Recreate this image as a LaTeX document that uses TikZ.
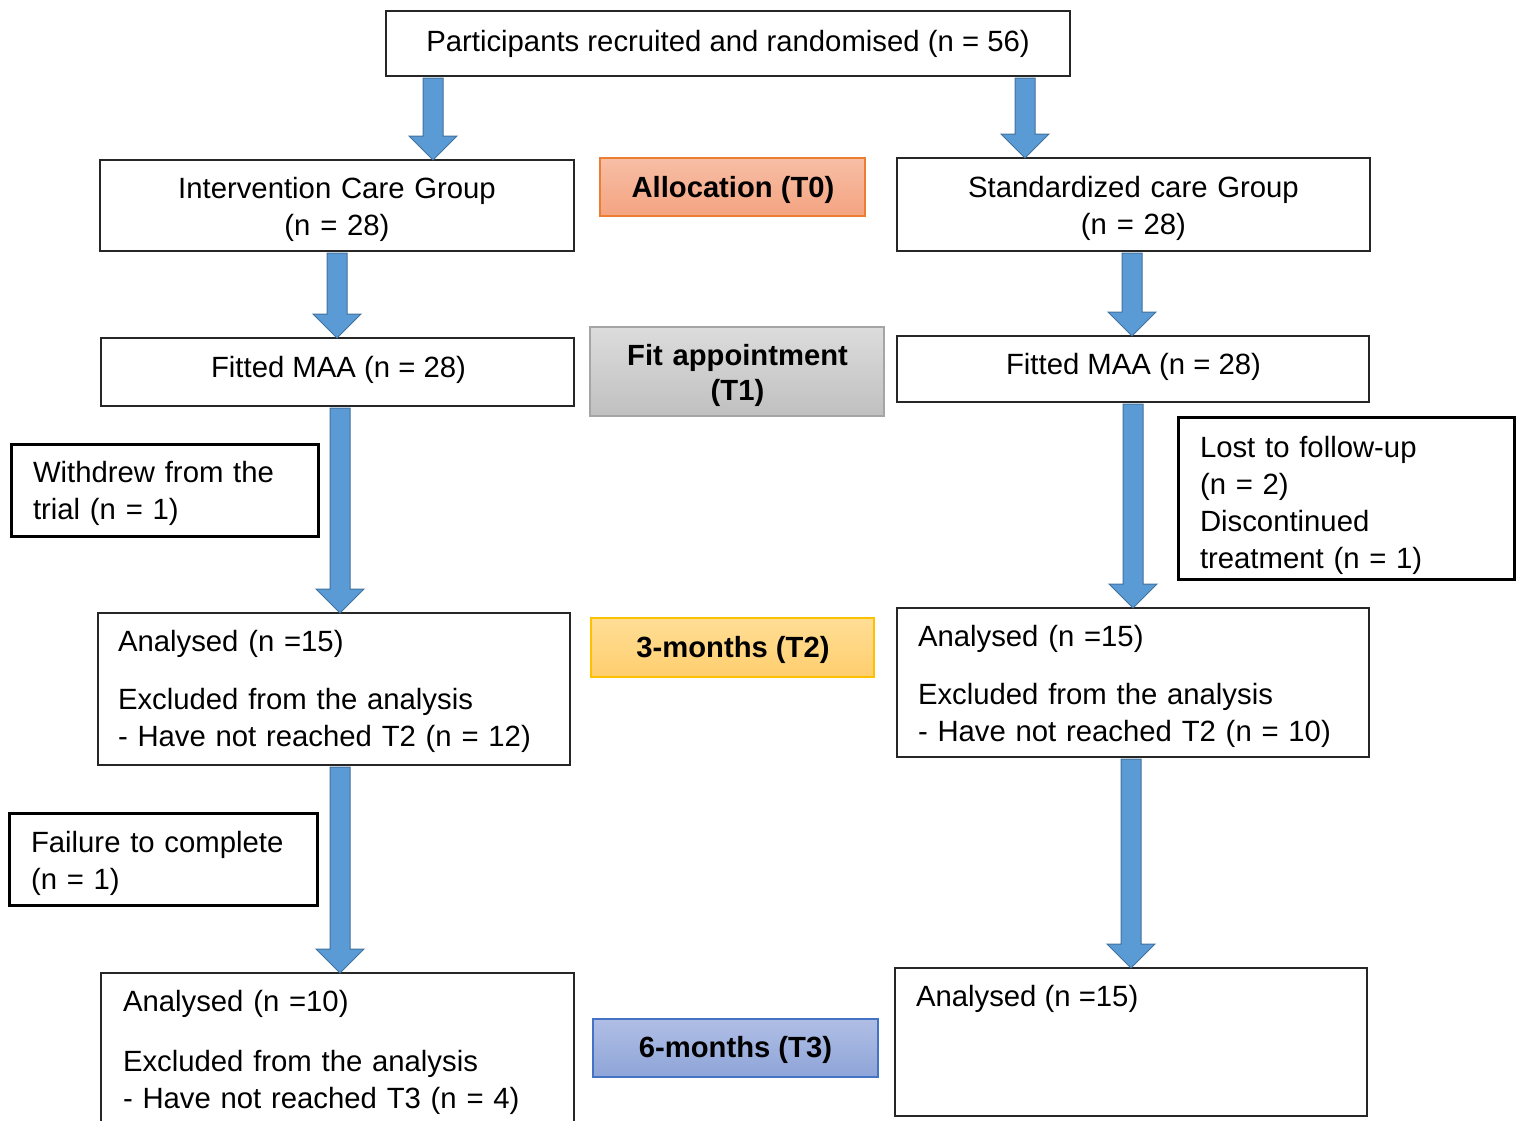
\documentclass[tikz,border=0pt]{standalone}
\usepackage{fontspec}
\setmainfont{Liberation Sans}
\usetikzlibrary{calc}

\definecolor{arrowblue}{HTML}{5B9BD5}
\definecolor{arrowedge}{HTML}{41719C}
\definecolor{boxline}{HTML}{262626}
\definecolor{orangetop}{RGB}{247,190,166}
\definecolor{orangebot}{RGB}{244,164,128}
\definecolor{orangeline}{HTML}{ED7D31}
\definecolor{greytop}{RGB}{220,220,220}
\definecolor{greybot}{RGB}{192,192,192}
\definecolor{greyline}{HTML}{A5A5A5}
\definecolor{yellowtop}{RGB}{255,222,150}
\definecolor{yellowbot}{RGB}{255,206,110}
\definecolor{yellowline}{HTML}{FFC000}
\definecolor{bluetop}{RGB}{176,190,229}
\definecolor{bluebot}{RGB}{142,165,216}
\definecolor{blueline}{HTML}{4472C4}

% block arrow straight down at x = #1, from node anchor #2 to node anchor #3
\newcommand\flowarrow[3]{%
  \filldraw[flowarrow] let \p1=(#2), \p2=(#3) in
    (#1pt-10pt,\y1-2pt) -- (#1pt+10pt,\y1-2pt) -- (#1pt+10pt,\y2+24pt)
    -- (#1pt+24pt,\y2+24pt) -- (#1pt,\y2) -- (#1pt-24pt,\y2+24pt)
    -- (#1pt-10pt,\y2+24pt) -- cycle;}

\tikzset{
  box/.style={draw=boxline, line width=1.4pt, fill=white, inner sep=0pt,
    outer sep=0pt, anchor=north west},
  thickbox/.style={box, draw=black, line width=3pt},
  stage/.style={draw, line width=1.5pt, inner sep=0pt, outer sep=0pt,
    anchor=north west},
  allocstage/.style={stage, draw=orangeline, top color=orangetop, bottom color=orangebot},
  fitstage/.style={stage, draw=greyline, top color=greytop, bottom color=greybot},
  threestage/.style={stage, draw=yellowline, top color=yellowtop, bottom color=yellowbot},
  sixstage/.style={stage, draw=blueline, top color=bluetop, bottom color=bluebot},
  txt/.style={inner sep=0pt, outer sep=0pt,
    font=\fontsize{29.3pt}{37pt}\selectfont},
  bold/.style={txt, font=\fontsize{29.2pt}{35pt}\selectfont\bfseries},
  flowarrow/.style={fill=arrowblue, draw=arrowedge, line width=1pt, line join=miter},
}

\begin{document}
\begin{tikzpicture}[x=1pt, y=-1pt]
\useasboundingbox (0,0) rectangle (1516,1120);

% ---- boxes ----
\node[box, minimum width=684pt, minimum height=65pt] (top) at (386,11) {};
\node[box, minimum width=474pt, minimum height=91pt] (ic) at (100,160) {};
\node[box, minimum width=473pt, minimum height=93pt] (sc) at (897,158) {};
\node[box, minimum width=473pt, minimum height=68pt] (fl) at (101,338) {};
\node[box, minimum width=472pt, minimum height=66pt] (fr) at (897,336) {};
\node[thickbox, minimum width=307pt, minimum height=92pt] (wd) at (11,444) {};
\node[thickbox, minimum width=336pt, minimum height=162pt] (lost) at (1178,417) {};
\node[box, minimum width=472pt, minimum height=152pt] (al2) at (98,613) {};
\node[box, minimum width=472pt, minimum height=149pt] (ar2) at (897,608) {};
\node[thickbox, minimum width=308pt, minimum height=92pt] (fail) at (9,813) {};
\node[box, minimum width=473pt, minimum height=155pt] (al3) at (101,973) {};
\node[box, minimum width=472pt, minimum height=148pt] (ar3) at (895,968) {};

% ---- stage labels ----
\node[allocstage, minimum width=265pt, minimum height=58pt] (alloc) at (600,158) {};
\node[fitstage, minimum width=294pt, minimum height=89pt] (fitapp) at (590,327) {};
\node[threestage, minimum width=283pt, minimum height=59pt] (three) at (591,618) {};
\node[sixstage, minimum width=285pt, minimum height=58pt] (six) at (593,1019) {};

% ---- texts ----
\node[txt, anchor=base] (toptxt) at (728,51) {Participants recruited and randomised (n = 56)};
\node[txt, anchor=base, align=center, text width=460pt] (ictxt) at (337,198)
  {Intervention Care Group\\(n = 28)};
\node[txt, anchor=base, align=center, text width=460pt] (sctxt) at (1133.5,197)
  {Standardized care Group\\(n = 28)};
\node[txt, anchor=base] (fltxt) at (338.5,377) {Fitted MAA (n = 28)};
\node[txt, anchor=base] (frtxt) at (1133.5,374) {Fitted MAA (n = 28)};
\node[txt, anchor=base west, align=left, text width=280pt] (wdtxt) at (33,482)
  {Withdrew from the\\trial (n = 1)};
\node[txt, anchor=base west, align=left, text width=300pt] (losttxt) at (1200,457)
  {Lost to follow-up\\(n = 2)\\Discontinued\\treatment (n = 1)};
\node[txt, anchor=base west, align=left, text width=440pt] (al2txt) at (118,651)
  {Analysed (n =15)\\[21pt]Excluded from the analysis\\- Have not reached T2 (n = 12)};
\node[txt, anchor=base west, align=left, text width=440pt] (ar2txt) at (918,646)
  {Analysed (n =15)\\[21pt]Excluded from the analysis\\- Have not reached T2 (n = 10)};
\node[txt, anchor=base west, align=left, text width=280pt] (failtxt) at (31,852)
  {Failure to complete\\(n = 1)};
\node[txt, anchor=base west, align=left, text width=440pt] (al3txt) at (123,1011)
  {Analysed (n =10)\\[23pt]Excluded from the analysis\\- Have not reached T3 (n = 4)};
\node[txt, anchor=base west] (ar3txt) at (916,1006) {Analysed (n =15)};

\node[bold, anchor=base] (alloctxt) at (733,197) {Allocation (T0)};
\node[bold, anchor=base, align=center, text width=280pt] (fittxt) at (737.5,365)
  {Fit appointment\\(T1)};
\node[bold, anchor=base] (threetxt) at (733,657) {3-months (T2)};
\node[bold, anchor=base] (sixtxt) at (735.5,1057) {6-months (T3)};

% ---- arrows ----
\flowarrow{433}{top.south}{ic.north}
\flowarrow{1025}{top.south}{sc.north}
\flowarrow{337}{ic.south}{fl.north}
\flowarrow{1132}{sc.south}{fr.north}
\flowarrow{340}{fl.south}{al2.north}
\flowarrow{1133}{fr.south}{ar2.north}
\flowarrow{340}{al2.south}{al3.north}
\flowarrow{1131}{ar2.south}{ar3.north}
\end{tikzpicture}
\end{document}
